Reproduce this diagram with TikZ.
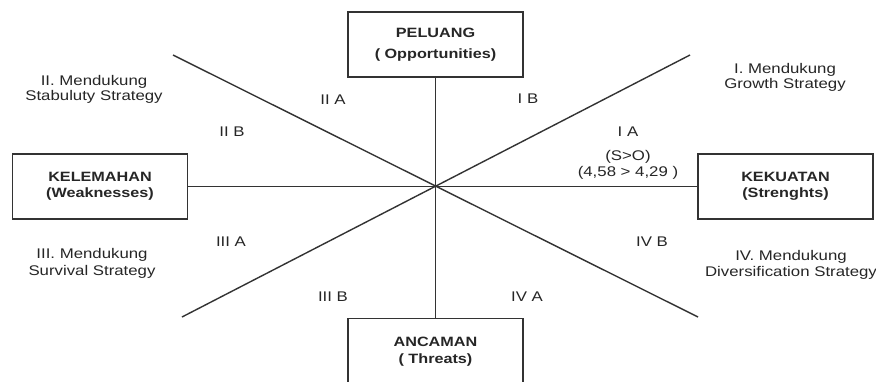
\documentclass[tikz,border=0pt]{standalone}
\usepackage{fontspec}
\setmainfont{Liberation Sans}[FakeStretch=1.2]
\definecolor{ink}{HTML}{262626}
\definecolor{linec}{HTML}{333333}
\begin{document}
\begin{tikzpicture}[x=1pt,y=-1pt,
  box/.style={draw=linec, line width=1.3pt, rectangle, minimum width=175pt, minimum height=65pt, inner sep=0pt, align=center, font=\fontsize{13.5}{16}\selectfont\bfseries, text=ink},
  lbl/.style={align=center, font=\fontsize{14}{15.5}\selectfont, text=ink, inner sep=0pt},
  ax/.style={draw=linec, line width=1.4pt}]
\useasboundingbox (0,0) rectangle (876,381);
\fill[white] (0,0) rectangle (876,381);
% boxes
\node[box] (top) at (435.5,44.5) {PELUANG\\[5pt]( Opportunities)};
\node[box] (left) at (100,186.5) {KELEMAHAN\\(Weaknesses)};
\node[box] (right) at (785.5,186.5) {KEKUATAN\\(Strenghts)};
\node[box, anchor=north, minimum height=66pt] (bot) at (435.5,318) {ANCAMAN\\[1pt]( Threats)};
\coordinate (c) at (435.5,186.5);
\coordinate (d1a) at (173,55);
\coordinate (d1b) at (698,317);
\coordinate (d2a) at (690,55);
\coordinate (d2b) at (182,317);
% axes
\draw[ax] (top.south) -- (bot.north);
\draw[ax] (left.east) -- (right.west);
\draw[ax] (d1a) -- (d1b);
\draw[ax] (d2a) -- (d2b);
% quadrant labels
\node[lbl] (iia) at (333,100) {II A};
\node[lbl] (ib) at (528,99) {I B};
\node[lbl] (iib) at (232,132) {II B};
\node[lbl] (ia) at (628,132) {I A};
\node[lbl, font=\fontsize{14}{16}\selectfont] (so) at (628,165) {(S>O)\\(4,58 > 4,29 )};
\node[lbl] (iiia) at (231,242) {III A};
\node[lbl] (ivb) at (652,242) {IV B};
\node[lbl] (iiib) at (333,297) {III B};
\node[lbl] (iva) at (527,297) {IV A};
% strategy labels
\node[lbl] (s2) at (94,89.5) {II. Mendukung\\Stabuluty Strategy};
\node[lbl] (s1) at (785,77.5) {I. Mendukung\\Growth Strategy};
\node[lbl, font=\fontsize{14}{17}\selectfont] (s3) at (92,263.5) {III. Mendukung\\Survival Strategy};
\node[lbl, font=\fontsize{14}{16}\selectfont] (s4) at (791,265) {IV. Mendukung\\Diversification Strategy};
\end{tikzpicture}
\end{document}
